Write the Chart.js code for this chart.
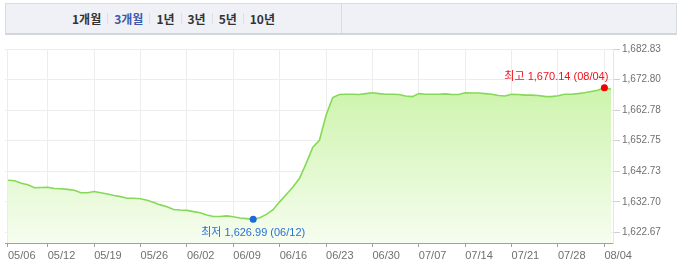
<!DOCTYPE html>
<html lang="ko">
<head>
<meta charset="utf-8">
<script src="https://cdn.jsdelivr.net/npm/chart.js@4/dist/chart.umd.min.js"></script>
<style>
    html, body { margin: 0; padding: 0; background: #fff; }
    body { width: 680px; height: 274px; position: relative; overflow: hidden; font-family: "Liberation Sans", "Noto Sans CJK KR", sans-serif; }
    .tab-bar { position: absolute; left: 5px; top: 3px; width: 670px; height: 29px; background: #eff1f6; border: 1px solid #d8dbe0; border-bottom: 2px solid #d3d6dc; display: flex; }
    .tab-left { width: 335px; border-right: 1px solid #d8dbe0; display: flex; align-items: center; justify-content: center; }
    .tab-left span { font-size: 12px; font-weight: bold; color: #333; font-family: "Noto Sans CJK KR", sans-serif; }
    .tab-left span.on { color: #3b5aa9; }
    .tab-left i { display: inline-block; width: 1px; height: 11px; background: #dcdfe4; margin: 0 6px; }
    .chart-box { position: absolute; left: 0; top: 40px; width: 680px; height: 234px; }
</style>
</head>
<body>
<div class="tab-bar">
    <div class="tab-left">
        <span>1개월</span><i></i><span class="on">3개월</span><i></i><span>1년</span><i></i><span>3년</span><i></i><span>5년</span><i></i><span>10년</span>
    </div>
</div>
<div class="chart-box"><canvas class="chart-area"></canvas></div>
<script>
/**
 * 데이터
 */
var dates = [
    '05/06','05/07','05/08','05/09','05/10','05/11','05/12','05/13','05/14','05/15','05/16','05/17','05/18','05/19','05/20',
    '05/21','05/22','05/23','05/24','05/25','05/26','05/27','05/28','05/29','05/30','05/31',
    '06/01','06/02','06/03','06/04','06/05','06/06','06/07','06/08','06/09','06/10','06/11','06/12','06/13','06/14','06/15',
    '06/16','06/17','06/18','06/19','06/20','06/21','06/22','06/23','06/24','06/25','06/26','06/27','06/28','06/29','06/30',
    '07/01','07/02','07/03','07/04','07/05','07/06','07/07','07/08','07/09','07/10','07/11','07/12','07/13','07/14','07/15',
    '07/16','07/17','07/18','07/19','07/20','07/21','07/22','07/23','07/24','07/25','07/26','07/27','07/28','07/29','07/30','07/31',
    '08/01','08/02','08/03','08/04','08/05'
];

var values = [
    1639.8, 1639.6, 1638.8, 1638.3, 1637.3, 1637.4, 1637.5, 1637.1, 1637.0, 1636.8, 1636.5, 1635.7, 1635.7, 1636.1, 1635.7,
    1635.3, 1634.8, 1634.4, 1633.9, 1633.9, 1633.7, 1633.2, 1632.5, 1631.7, 1631.1, 1630.2,
    1630.0, 1629.9, 1629.5, 1629.1, 1628.4, 1627.9, 1627.9, 1628.1, 1627.8, 1627.4, 1627.2, 1626.99, 1627.5, 1628.6, 1630.1,
    1632.7, 1635.1, 1637.6, 1640.4, 1645.3, 1650.6, 1652.9, 1661.1, 1666.9, 1667.9, 1668.0, 1668.0, 1667.9, 1668.2, 1668.5,
    1668.2, 1668.0, 1668.0, 1667.9, 1667.4, 1667.2, 1668.2, 1668.0, 1668.0, 1668.0, 1668.1, 1667.9, 1667.9, 1668.5, 1668.4,
    1668.4, 1668.2, 1668.0, 1667.6, 1667.4, 1668.0, 1667.9, 1667.7, 1667.7, 1667.6, 1667.3, 1667.2, 1667.5, 1668.0, 1668.0, 1668.2,
    1668.5, 1668.9, 1669.3, 1670.14, 1669.6
];

// x축 라벨
var xTickLabels = ['05/06','05/12','05/19','05/26','06/02','06/09','06/16','06/23','06/30','07/07','07/14','07/21','07/28','08/04'];

// y축 눈금
var yTickValues = [1622.67, 1632.70, 1642.73, 1652.75, 1662.78, 1672.80, 1682.83];
var yTickLabels = ['1,622.67', '1,632.70', '1,642.73', '1,652.75', '1,662.78', '1,672.80', '1,682.83'];

var points = values.map(function (v, i) {
    return { x: i, y: v };
});

var maxIdx = values.indexOf(Math.max.apply(null, values));
var minIdx = values.indexOf(Math.min.apply(null, values));

function fmt(v) {
    return v.toLocaleString('en-US', { minimumFractionDigits: 2, maximumFractionDigits: 2 });
}

/**
 * 최고/최저 표시
 */
var markLabels = {
    id: 'markLabels',
    afterDatasetsDraw: function (chart) {
        var ctx = chart.ctx;
        var xs = chart.scales.x, ys = chart.scales.y;
        ctx.save();
        ctx.font = '11px "Liberation Sans", "Noto Sans CJK KR", sans-serif';

        // 최고
        var hx = xs.getPixelForValue(maxIdx), hy = ys.getPixelForValue(values[maxIdx]);
        ctx.fillStyle = '#f0141e';
        ctx.textAlign = 'right';
        ctx.textBaseline = 'bottom';
        ctx.fillText('최고 ' + fmt(values[maxIdx]) + ' (' + dates[maxIdx] + ')', hx + 4, hy - 5);

        // 최저
        var lx = xs.getPixelForValue(minIdx), ly = ys.getPixelForValue(values[minIdx]);
        ctx.fillStyle = '#2a6fd6';
        ctx.textAlign = 'center';
        ctx.textBaseline = 'top';
        ctx.fillText('최저 ' + fmt(values[minIdx]) + ' (' + dates[minIdx] + ')', lx, ly + 8);
        ctx.restore();
    }
};

var ctx = document.querySelector('.chart-area').getContext('2d');

window.myChart = new Chart(ctx, {
    type: 'line',
    data: {
        datasets: [{
            data: points,
            borderColor: '#86d957',
            borderWidth: 1.6,
            tension: 0,
            fill: 'start',
            backgroundColor: function (c) {
                var area = c.chart.chartArea;
                if (!area) return 'rgba(190,240,150,0.6)';
                var g = c.chart.ctx.createLinearGradient(0, area.top, 0, area.bottom);
                g.addColorStop(0, '#bff09a');
                g.addColorStop(0.3, '#d2f5b5');
                g.addColorStop(1, '#f6fdef');
                return g;
            },
            pointRadius: function (c) {
                return (c.dataIndex === maxIdx || c.dataIndex === minIdx) ? 3.5 : 0;
            },
            pointBorderWidth: 0,
            pointBackgroundColor: function (c) {
                return c.dataIndex === maxIdx ? '#f00000' : '#1a6ad8';
            },
            pointBorderColor: function (c) {
                return c.dataIndex === maxIdx ? '#f00000' : '#1a6ad8';
            }
        }]
    },
    options: {
        responsive: true,
        maintainAspectRatio: false,
        animation: false,
        layout: {
            padding: { left: 5, top: 9, right: 0, bottom: 0 }
        },
        plugins: {
            legend: { display: false },
            tooltip: { enabled: false }
        },
        scales: {
            x: {
                type: 'linear',
                min: -0.45,
                max: 91.3,
                afterBuildTicks: function (scale) {
                    scale.ticks = xTickLabels.map(function (d) {
                        return { value: dates.indexOf(d) };
                    });
                },
                afterFit: function (scale) {
                    scale.height = 31;
                },
                ticks: {
                    autoSkip: false,
                    maxRotation: 0,
                    align: 'start',
                    padding: 2,
                    color: '#707070',
                    font: { size: 11, family: '"Liberation Sans", sans-serif' },
                    callback: function (v) {
                        return dates[v];
                    }
                },
                grid: {
                    color: '#ededed',
                    tickColor: '#a0a0a0',
                    tickLength: 4
                },
                border: { color: '#a0a0a0' }
            },
            y: {
                position: 'right',
                min: 1619.2,
                max: 1682.83,
                afterBuildTicks: function (scale) {
                    scale.ticks = yTickValues.map(function (v) {
                        return { value: v };
                    });
                },
                afterFit: function (scale) {
                    scale.width = 67;
                },
                ticks: {
                    padding: 2,
                    color: '#707070',
                    font: { size: 10, family: '"Liberation Sans", sans-serif' },
                    callback: function (v) {
                        return yTickLabels[yTickValues.indexOf(v)];
                    }
                },
                grid: {
                    color: '#ededed',
                    tickColor: '#cfcfcf',
                    tickLength: 7
                },
                border: { color: '#e6e6e6' }
            }
        }
    },
    plugins: [markLabels]
});
</script>
</body>
</html>
